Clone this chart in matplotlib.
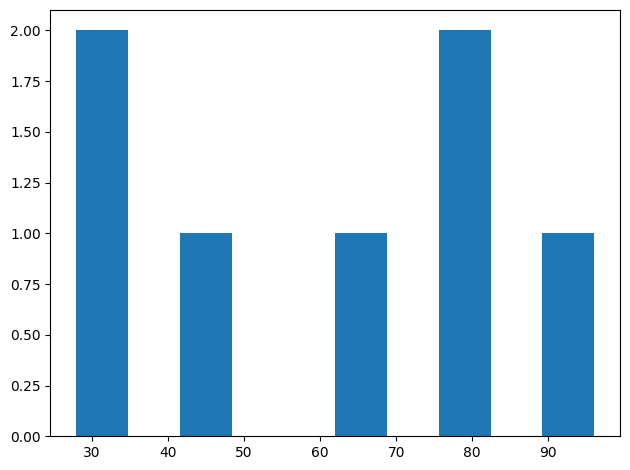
import matplotlib
matplotlib.use("Agg")
import matplotlib.pyplot as plt

values = [28, 32, 45, 65, 78, 80, 96]
n_bins = 10

fig, ax = plt.subplots(figsize=(6.4, 4.8), dpi=100)
ax.hist(values, bins=n_bins, color="#1f77b4")
fig.tight_layout()
fig.savefig("out.png", bbox_inches="tight")
